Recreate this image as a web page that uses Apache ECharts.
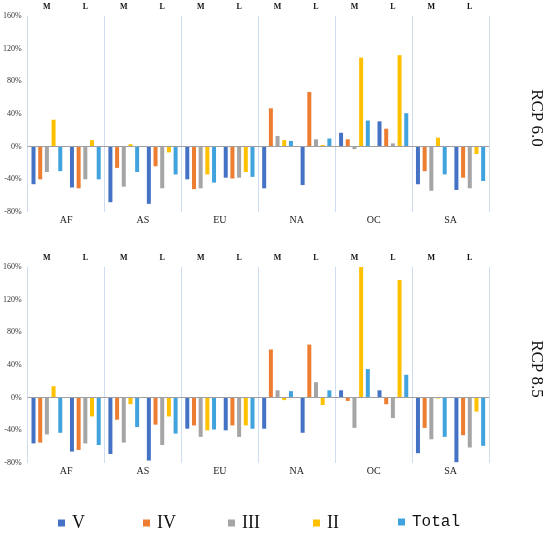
<!DOCTYPE html>
<html>
<head>
<meta charset="utf-8">
<script src="https://cdn.jsdelivr.net/npm/echarts@6/dist/echarts.min.js"></script>
<style>
html, body { margin: 0; padding: 0; background: #fff; }
#main { width: 550px; height: 535px; }
</style>
</head>
<body>
<div id="main"></div>
<script>
// regions and sub groups
var regions = ['AF', 'AS', 'EU', 'NA', 'OC', 'SA'];
var groups = ['M', 'L', 'M', 'L', 'M', 'L', 'M', 'L', 'M', 'L', 'M', 'L'];
var seriesNames = ['V', 'IV', 'III', 'II', 'Total'];
var colors = ['#4472C4', '#ED7D31', '#A5A5A5', '#FFC000', '#41A3DD'];
var yTicks = [-80, 160, 40];

// RCP 6.0, order: AF-M, AF-L, AS-M, AS-L, EU-M, EU-L, NA-M, NA-L, OC-M, OC-L, SA-M, SA-L
var rcp60_V = [-46, -50, -68, -70, -40, -38, -51, -47, 17, 31, -46, -53];
var rcp60_IV = [-40, -51, -26, -24, -52, -39, 47, 67, 9, 22, -30, -38];
var rcp60_III = [-31, -40, -49, -51, -51, -38, 13, 9, -3, 4, -54, -51];
var rcp60_II = [33, 8, 3, -7, -34, -31, 8, 2, 109, 112, 11, -9];
var rcp60_Total = [-30, -40, -31, -34, -44, -37, 7, 10, 32, 41, -34, -42];

// RCP 8.5
var rcp85_V = [-56, -66, -69, -77, -38, -40, -38, -43, 9, 9, -68, -79];
var rcp85_IV = [-55, -64, -27, -33, -34, -34, 59, 65, -4, -8, -37, -46];
var rcp85_III = [-45, -56, -55, -58, -48, -48, 9, 19, -37, -25, -51, -61];
var rcp85_II = [14, -23, -8, -23, -40, -34, -3, -9, 162, 144, -1, -17];
var rcp85_Total = [-43, -58, -36, -44, -39, -38, 8, 9, 35, 28, -48, -59];

var panels = [
    { label: 'RCP 6.0', top: 16, data: [rcp60_V, rcp60_IV, rcp60_III, rcp60_II, rcp60_Total] },
    { label: 'RCP 8.5', top: 267, data: [rcp85_V, rcp85_IV, rcp85_III, rcp85_II, rcp85_Total] }
];

var serif = "'Liberation Serif', 'DejaVu Serif', serif";
var sepColor = '#CFDDF0';

var grids = [], xAxes = [], yAxes = [], series = [], graphics = [], legends = [];

panels.forEach(function(p, k) {
    grids.push({ left: 27, width: 462, top: p.top, height: 196 });
    // top axis: M / L, carries the bars
    xAxes.push({
        type: 'category', gridIndex: k, position: 'top', data: groups,
        axisLine: { show: false }, axisTick: { show: false },
        axisLabel: { margin: 5, fontFamily: serif, fontSize: 8, fontWeight: 'bold', color: '#111' }
    });
    // bottom axis: regions, draws separators
    xAxes.push({
        type: 'category', gridIndex: k, position: 'bottom', data: regions,
        axisLine: { show: false }, axisTick: { show: false },
        axisLabel: { margin: 3, fontFamily: serif, fontSize: 10, color: '#222' },
        splitLine: { show: true, interval: 0, lineStyle: { color: sepColor, width: 1 } }
    });
    yAxes.push({
        type: 'value', gridIndex: k, min: yTicks[0], max: yTicks[1], interval: yTicks[2],
        axisLine: { show: false }, axisTick: { show: false }, splitLine: { show: false },
        axisLabel: { margin: 6, fontFamily: serif, fontSize: 8, color: '#333', formatter: '{value}%' }
    });
    p.data.forEach(function(vals, i) {
        var s = {
            name: seriesNames[i], type: 'bar', xAxisIndex: 2 * k, yAxisIndex: k,
            data: vals, barCategoryGap: '20%', barGap: '67%',
            itemStyle: { color: colors[i] }
        };
        if (i === 0) {
            s.markLine = {
                silent: true, symbol: 'none', label: { show: false },
                lineStyle: { color: '#A0A0A0', width: 1, type: 'solid' },
                data: [{ yAxis: 0 }]
            };
        }
        series.push(s);
    });
    graphics.push({
        type: 'text', x: 536, y: p.top + 102, rotation: -Math.PI / 2,
        style: { text: p.label, font: '17px ' + serif, fill: '#111', align: 'center', verticalAlign: 'middle' }
    });
});

var legendX = [58, 143, 228, 313, 398];
seriesNames.forEach(function(n, i) {
    legends.push({
        data: [n], left: legendX[i], top: 514, padding: 0, itemGap: 0,
        itemWidth: 7, itemHeight: 7, icon: 'rect',
        textStyle: {
            fontFamily: n === 'Total' ? "'Liberation Mono', monospace" : serif,
            fontSize: n === 'Total' ? 16 : 18,
            color: '#111', padding: [0, 0, 0, 2]
        }
    });
});

var myChart = echarts.init(document.getElementById('main'));
myChart.setOption({
    backgroundColor: '#fff',
    animation: false,
    grid: grids,
    xAxis: xAxes,
    yAxis: yAxes,
    legend: legends,
    graphic: graphics,
    series: series
});
</script>
</body>
</html>
